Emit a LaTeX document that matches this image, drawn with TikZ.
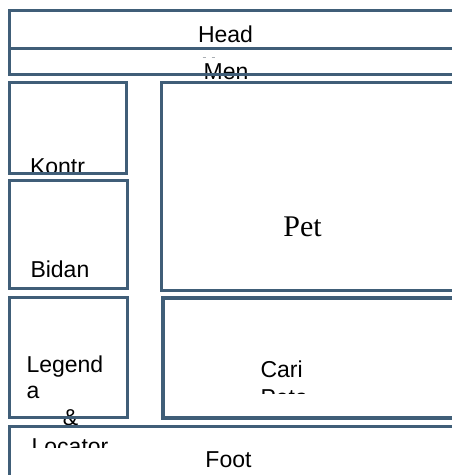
\documentclass[tikz,border=0pt]{standalone}
\usepackage{fontspec}
\setmainfont{Liberation Sans}
\newfontfamily\petfont{Liberation Serif}
\definecolor{edge}{RGB}{64,94,120}
\definecolor{faint}{RGB}{170,175,180}
\begin{document}
\begin{tikzpicture}[x=1bp,y=-1bp,
  box/.style={draw=edge,line width=3bp,inner sep=0pt,outer sep=0pt,anchor=north west},
  thickbox/.style={box,line width=4bp},
  lbl/.style={inner sep=0pt,outer sep=0pt,font=\fontsize{23bp}{27bp}\selectfont,text=black},
  ]
\useasboundingbox (0,0) rectangle (452,475);
\clip (0,0) rectangle (452,475);
\fill[white] (0,0) rectangle (452,475);
% texts
\node[lbl,anchor=base] (thead) at (225.5,43) {Head};
\node[lbl,anchor=base] (tmen) at (226,79.5) {Men};
\draw[faint,line width=0.8bp] (202.7,57) -- (206,57) (211.7,57) -- (215,57);
\begin{scope}
  \clip (0,83) rectangle (126,173.5);
  \node[lbl,anchor=base west] (tkontr) at (30,175) {Kontr};
\end{scope}
\node[lbl,anchor=base west] (tbidan) at (30.5,277) {Bidan};
\node[inner sep=0pt,outer sep=0pt,anchor=base,font=\petfont\fontsize{30bp}{34bp}\selectfont] (tpet) at (302.5,237) {Pet};
\node[lbl,anchor=base west] (tlegend) at (26.5,372) {Legend};
\node[lbl,anchor=base west] (ta) at (26.5,398) {a};
\node[lbl,anchor=base] (tamp) at (70.5,425.5) {\&};
\begin{scope}
  \clip (0,428) rectangle (452,447);
  \node[lbl,anchor=base] (tlocator) at (70,454.5) {Locator};
\end{scope}
\node[lbl,anchor=base west] (tcari) at (260.5,377) {Cari};
\begin{scope}
  \clip (163,380) rectangle (452,393);
  \node[lbl,anchor=base west] (tpeta) at (260.5,405) {Peta};
\end{scope}
\node[lbl,anchor=base] (tfoot) at (228.5,467) {Foot};
% boxes
\node[box,minimum width=460bp,minimum height=38bp] (head) at (9,11) {};
\node[box,minimum width=460bp,minimum height=26bp] (men) at (9,49) {};
\node[box,minimum width=117bp,minimum height=91bp] (kontr) at (9,83) {};
\node[box,minimum width=118bp,minimum height=107bp] (bidan) at (9,181) {};
\node[box,minimum width=300bp,minimum height=207bp] (pet) at (161,83) {};
\node[box,minimum width=118bp,minimum height=120bp] (legenda) at (9,297) {};
\node[thickbox,minimum width=300bp,minimum height=120bp] (cari) at (163,298) {};
\node[box,minimum width=460bp,minimum height=80bp] (foot) at (9,426) {};
\end{tikzpicture}
\end{document}
